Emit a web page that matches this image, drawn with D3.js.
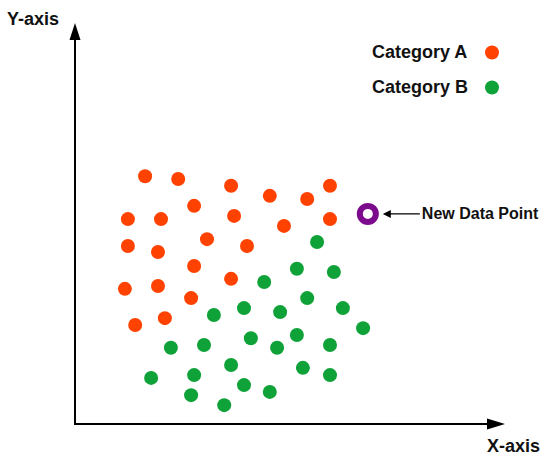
<!DOCTYPE html>
<html>
<head>
<meta charset="utf-8">
<script src="https://cdn.jsdelivr.net/npm/d3@7"></script>
<style>
  html, body { margin: 0; padding: 0; background: #fff; }
  text { font-family: "Liberation Sans", Arial, sans-serif; font-weight: bold; fill: #111; }
</style>
</head>
<body>
<div id="chart"></div>
<script>
// Category A (red) points, [x, y] in axis units
const categoryA = [
  [16.3, 61.8], [24.0, 61.1], [36.3, 59.4], [45.3, 56.9], [54.0, 56.1], [59.3, 59.4],
  [12.3, 51.1], [20.0, 51.1], [27.7, 54.4], [37.0, 51.9], [48.6, 49.4], [59.3, 51.1],
  [12.3, 44.4], [19.3, 42.9], [30.7, 46.1], [40.0, 44.4],
  [27.7, 39.4], [11.6, 33.7], [19.3, 34.4], [36.3, 36.2], [27.0, 31.4],
  [14.0, 24.7], [20.9, 26.4],
];

// Category B (green) points
const categoryB = [
  [56.3, 45.4], [51.6, 38.7], [60.2, 37.9], [44.0, 35.4],
  [32.3, 27.2], [39.3, 28.9], [47.7, 27.9], [54.0, 31.4], [62.3, 28.9], [67.0, 23.9],
  [22.3, 19.0], [30.0, 19.7], [40.9, 21.4], [47.0, 19.0], [51.6, 22.2], [59.3, 19.7],
  [17.7, 11.5], [27.7, 12.2], [36.3, 14.7], [53.0, 14.0], [59.3, 12.2],
  [27.0, 7.2], [39.3, 9.7], [45.3, 8.0], [34.7, 4.7],
];

const newPoint = [68.1, 52.4];

const legendLabels = ['Category A', 'Category B'];
const axisLabels = { x: 'X-axis', y: 'Y-axis' };
const newPointLabel = 'New Data Point';

const colors = { a: '#ff4200', b: '#0fa238', ring: '#7c0a8c' };

const width = 550;
const height = 459;

const x = d3.scaleLinear().domain([0, 100]).range([75, 505]);
const y = d3.scaleLinear().domain([0, 100]).range([424, 23]);

const svg = d3
  .select('#chart')
  .append('svg')
  .attr('width', width)
  .attr('height', height);

// axes with arrow heads
const axes = svg.append('g').attr('stroke', '#000').attr('fill', '#000');

axes.append('line')
  .attr('x1', x(0)).attr('y1', y(0))
  .attr('x2', x(100) - 10).attr('y2', y(0))
  .attr('stroke-width', 2);
axes.append('path')
  .attr('stroke', 'none')
  .attr('d', `M${x(100)},${y(0)} L${x(100) - 18},${y(0) - 5.5} L${x(100) - 18},${y(0) + 5.5} Z`);

axes.append('line')
  .attr('x1', x(0)).attr('y1', y(0) + 1)
  .attr('x2', x(0)).attr('y2', y(100) + 10)
  .attr('stroke-width', 2);
axes.append('path')
  .attr('stroke', 'none')
  .attr('d', `M${x(0)},${y(100)} L${x(0) - 5.5},${y(100) + 17} L${x(0) + 5.5},${y(100) + 17} Z`);

svg.append('text')
  .attr('x', 7).attr('y', 25)
  .attr('font-size', 18)
  .text(axisLabels.y);

svg.append('text')
  .attr('x', 487).attr('y', 452)
  .attr('font-size', 18)
  .text(axisLabels.x);

// points
svg.append('g')
  .selectAll('circle')
  .data(categoryA)
  .join('circle')
  .attr('cx', (d) => x(d[0]))
  .attr('cy', (d) => y(d[1]))
  .attr('r', 7)
  .attr('fill', colors.a);

svg.append('g')
  .selectAll('circle')
  .data(categoryB)
  .join('circle')
  .attr('cx', (d) => x(d[0]))
  .attr('cy', (d) => y(d[1]))
  .attr('r', 7)
  .attr('fill', colors.b);

// new data point ring
svg.append('circle')
  .attr('cx', x(newPoint[0]))
  .attr('cy', y(newPoint[1]))
  .attr('r', 8)
  .attr('fill', 'none')
  .attr('stroke', colors.ring)
  .attr('stroke-width', 6);

const ax = x(newPoint[0]) + 15;
const ay = y(newPoint[1]);
svg.append('line')
  .attr('x1', ax + 4).attr('y1', ay)
  .attr('x2', ax + 37).attr('y2', ay)
  .attr('stroke', '#000')
  .attr('stroke-width', 1.2);
svg.append('path')
  .attr('fill', '#000')
  .attr('d', `M${ax},${ay} L${ax + 8},${ay - 4} L${ax + 8},${ay + 4} Z`);

svg.append('text')
  .attr('x', ax + 39).attr('y', ay + 5.5)
  .attr('font-size', 16)
  .text(newPointLabel);

// legend
const legend = svg.append('g')
  .selectAll('g')
  .data(legendLabels)
  .join('g')
  .attr('transform', (d, i) => `translate(372,${58 + i * 35})`);

legend.append('text')
  .attr('font-size', 18)
  .text((d) => d);

legend.append('circle')
  .attr('cx', 120)
  .attr('cy', -5.5)
  .attr('r', 7)
  .attr('fill', (d, i) => (i === 0 ? colors.a : colors.b));
</script>
</body>
</html>
